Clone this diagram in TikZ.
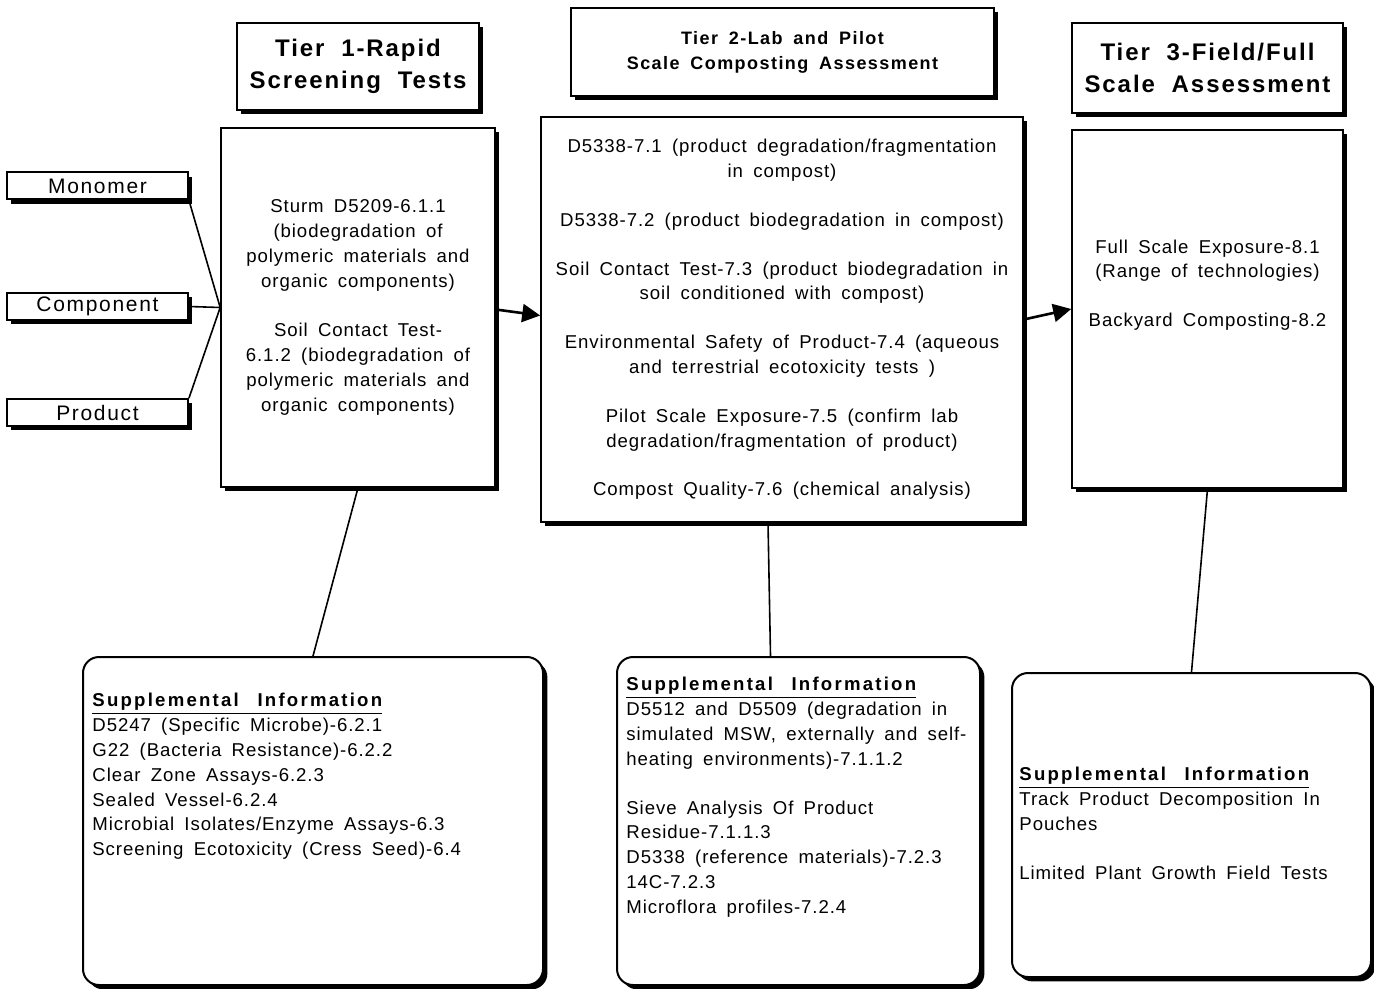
\documentclass[tikz,border=0pt]{standalone}
\usepackage{fontspec}
\setmainfont{Liberation Sans}
\usetikzlibrary{positioning, arrows.meta, shadows}

\newcommand\bodyfont{\fontsize{9.3}{12.4}\selectfont\addfontfeature{LetterSpace=5}\spaceskip=0.55em}
\newcommand\headfont{\fontsize{12}{16}\selectfont\bfseries\addfontfeature{LetterSpace=8}\spaceskip=0.7em}
\newcommand\headsmallfont{\fontsize{9}{12.5}\selectfont\bfseries\addfontfeature{LetterSpace=8}\spaceskip=0.6em}
\newcommand\sortfont{\fontsize{10.5}{12}\selectfont\addfontfeature{LetterSpace=8}}
\newcommand\suppheading{{\bfseries\addfontfeature{LetterSpace=12}\underline{Supplemental\hspace{1em}Information}}}

\begin{document}
\begin{tikzpicture}[x=0.5pt, y=-0.5pt,
  shadowed/.style={draw, fill=white, drop shadow={shadow xshift=2.2pt, shadow yshift=-2.2pt, fill=black, opacity=1}},
  tierhead/.style={shadowed, line width=1.2pt, font=\headfont, align=center, inner sep=0pt},
  tierbox/.style={shadowed, line width=0.8pt, font=\bodyfont, align=center, inner sep=0pt},
  sortbox/.style={shadowed, line width=1pt, font=\sortfont, inner sep=0pt, minimum width=90.5pt, minimum height=13.5pt},
  suppbox/.style={shadowed, rounded corners=8pt, line width=1pt},
  supptext/.style={font=\bodyfont, align=left, inner sep=0pt},
  link/.style={line width=0.8pt},
  flow/.style={line width=1.3pt, -{Triangle[length=9pt, width=9pt]}}
]
\fill[white] (0,0) rectangle (1374,989);
\useasboundingbox (0,0) rectangle (1374,989);

% tier headers
\node[tierhead, minimum width=121pt, minimum height=43.5pt] (head1) at (358,66.5)
{Tier 1-Rapid\\Screening Tests};
\node[tierhead, font=\headsmallfont, minimum width=211.5pt, minimum height=44pt] (head2) at (782.5,52)
{Tier 2-Lab and Pilot\\Scale Composting Assessment};
\node[tierhead, minimum width=135.5pt, minimum height=45pt] (head3) at (1207.5,68)
{Tier 3-Field/Full\\Scale Assessment};

% tier contents
\node[tierbox, minimum width=137pt, minimum height=179.5pt] (tier1) at (358,307.5)
{Sturm D5209-6.1.1\\(biodegradation of\\polymeric materials and\\organic components)\\[12.5pt]
Soil Contact Test-\\6.1.2 (biodegradation of\\polymeric materials and\\organic components)};

\node[tierbox, minimum width=241pt, minimum height=202.5pt] (tier2) at (782,319.5)
{D5338-7.1 (product degradation/fragmentation\\in compost)\\[12pt]
D5338-7.2 (product biodegradation in compost)\\[12pt]
Soil Contact Test-7.3 (product biodegradation in\\soil conditioned with compost)\\[12pt]
Environmental Safety of Product-7.4 (aqueous\\and terrestrial ecotoxicity tests )\\[12pt]
Pilot Scale Exposure-7.5 (confirm lab\\degradation/fragmentation of product)\\[12pt]
Compost Quality-7.6 (chemical analysis)};

\node[tierbox, minimum width=135.5pt, minimum height=179pt] (tier3) at (1207.5,309) {};
\node[font=\bodyfont, align=center] (tier3text) at ([yshift=12pt]tier3.center)
{Full Scale Exposure-8.1\\(Range of technologies)\\[12pt]Backyard Composting-8.2};

% sample types
\node[sortbox] (mono) at (97.5,186) {Monomer};
\node[sortbox] (comp) at (97.5,306.5) {Component};
\node[sortbox] (prod) at (97.5,412.5) {Product};

% supplemental information
\node[suppbox, minimum width=230pt, minimum height=164pt] (supp1) at (313,821) {};
\node[suppbox, minimum width=181.5pt, minimum height=164pt] (supp2) at (798.5,821) {};
\node[suppbox, minimum width=179.5pt, minimum height=152pt] (supp3) at (1191.5,825) {};

\node[supptext, below right=18.5pt and 5pt of supp1.north west] (supp1text)
{\suppheading\\D5247 (Specific Microbe)-6.2.1\\G22 (Bacteria Resistance)-6.2.2\\Clear Zone Assays-6.2.3\\
Sealed Vessel-6.2.4\\Microbial Isolates/Enzyme Assays-6.3\\Screening Ecotoxicity (Cress Seed)-6.4};
\node[supptext, below right=10.5pt and 5pt of supp2.north west] (supp2text)
{\suppheading\\D5512 and D5509 (degradation in\\simulated MSW, externally and self-\\heating environments)-7.1.1.2\\[12pt]
Sieve Analysis Of Product\\Residue-7.1.1.3\\D5338 (reference materials)-7.2.3\\14C-7.2.3\\Microflora profiles-7.2.4};
\node[supptext, below right=47.5pt and 4pt of supp3.north west] (supp3text)
{\suppheading\\Track Product Decomposition In\\Pouches\\[12pt]Limited Plant Growth Field Tests};

% connectors
\draw[link] (mono.south east) -- (tier1.west);
\draw[link] (comp.east) -- (tier1.west);
\draw[link] (prod.north east) -- (tier1.west);
\draw[flow] ([yshift=-1pt]tier1.east) -- ([yshift=2pt]tier2.west);
\draw[flow] (tier2.east) -- (tier3.west);
\draw[link] (tier1.south) -- (supp1.north);
\draw[link] ([xshift=-7pt]tier2.south) -- ([xshift=-14pt]supp2.north);
\draw[link] (tier3.south) -- (supp3.north);

\end{tikzpicture}
\end{document}
